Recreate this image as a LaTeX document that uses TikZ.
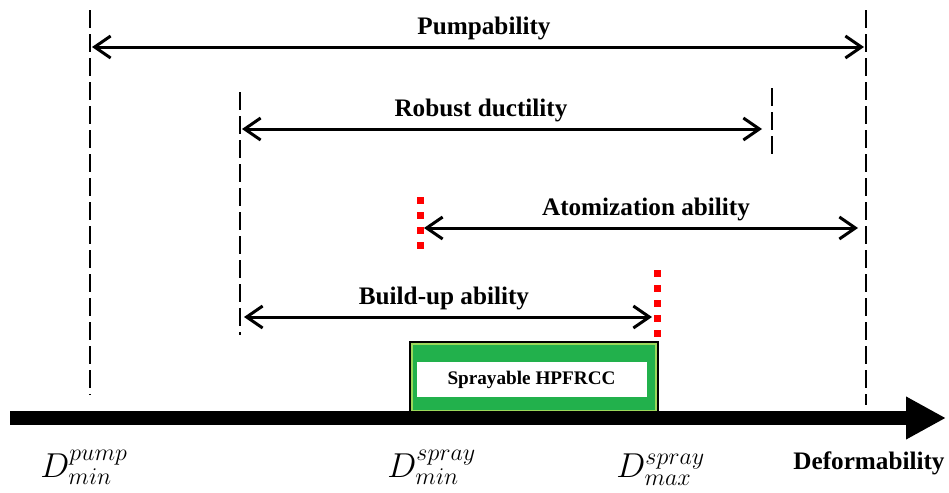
\documentclass[tikz,border=0pt]{standalone}
\usepackage{fontspec}
\setmainfont{Liberation Serif}
\usetikzlibrary{arrows.meta}
\DeclareMathSizes{16}{16}{12.5}{10}
\definecolor{boxgreen}{HTML}{22B14C}
\definecolor{boxrim}{HTML}{9BD85A}
\definecolor{tickred}{HTML}{FF0000}
\tikzset{
  lab/.style     = {font=\fontsize{12.6}{14}\selectfont\bfseries, inner sep=0pt},
  dlab/.style    = {font=\fontsize{16}{18}\selectfont, inner sep=0pt, anchor=base west},
  tick/.style    = {line width=1pt, dash pattern=on 9pt off 3pt},
  redtick/.style = {line width=3.5pt, draw=tickred, dash pattern=on 3.5pt off 4pt},
  span/.style    = {{Straight Barb[length=8pt,width=11pt]}-{Straight Barb[length=8pt,width=11pt]},
                    line width=1.5pt},
  axis/.style    = {-{Triangle[length=20pt,width=20pt]}, line width=7pt},
  sprbox/.style  = {draw=black, line width=0.6pt, fill=boxgreen, inner sep=0pt,
                    minimum width=124pt, minimum height=35.5pt},
  sprtxt/.style  = {fill=white, inner sep=0pt, minimum width=115pt, minimum height=17.5pt,
                    font=\fontsize{9.6}{11}\selectfont\bfseries},
}
\begin{document}
\begin{tikzpicture}[x=0.5pt, y=-0.5pt]
  \useasboundingbox (0,0) rectangle (949,493);

  % limit lines
  \coordinate (pumpT) at (90,10);   \coordinate (pumpB) at (90,395);
  \coordinate (ductT) at (240,92);  \coordinate (ductB) at (240,335);
  \coordinate (ductRT) at (772,88); \coordinate (ductRB) at (772,158);
  \coordinate (defT) at (866,10);   \coordinate (defB) at (866,405);
  \coordinate (smT) at (420,197);   \coordinate (smB) at (420,252);
  \coordinate (sxT) at (657,270);   \coordinate (sxB) at (657,340);
  \draw[tick] (pumpT) -- (pumpB);
  \draw[tick] (ductT) -- (ductB);
  \draw[tick] (ductRT) -- (ductRB);
  \draw[tick] (defT) -- (defB);
  \draw[redtick] (smT) -- (smB);
  \draw[redtick] (sxT) -- (sxB);

  % ranges
  \coordinate (pumpL) at (92,47);   \coordinate (pumpR) at (864,47);
  \coordinate (ductL) at (242,129); \coordinate (ductR) at (762,129);
  \coordinate (atomL) at (424,228); \coordinate (atomR) at (858,228);
  \coordinate (buildL) at (244,317); \coordinate (buildR) at (652,317);
  \draw[span] (pumpL) -- (pumpR);
  \draw[span] (ductL) -- (ductR);
  \draw[span] (atomL) -- (atomR);
  \draw[span] (buildL) -- (buildR);
  \node[lab] (pumptxt) at (484,28) {Pumpability};
  \node[lab] (ducttxt) at (481,110) {Robust ductility};
  \node[lab] (atomtxt) at (646,209) {Atomization ability};
  \node[lab] (buildtxt) at (444,298) {Build-up ability};

  % sprayable window
  \node[sprbox] (spray) at (534,377.5) {};
  \draw[boxrim, line width=1.2pt] ([shift={(1.4pt,1.4pt)}]spray.south west)
        rectangle ([shift={(-1.4pt,-1.4pt)}]spray.north east);
  \node[sprtxt] (spraytxt) at (531.5,379.5) {Sprayable HPFRCC};

  % axis
  \coordinate (axL) at (10,418);
  \coordinate (axR) at (946,418);
  \draw[axis] (axL) -- (axR);
  \node[dlab] (dpump) at (40,477) {$D^{pump}_{min}$};
  \node[dlab] (dsmin) at (387,477) {$D^{spray}_{min}$};
  \node[dlab] (dsmax) at (616,477) {$D^{spray}_{max}$};
  \node[lab] (deftxt) at (869,463) {Deformability};
\end{tikzpicture}
\end{document}
